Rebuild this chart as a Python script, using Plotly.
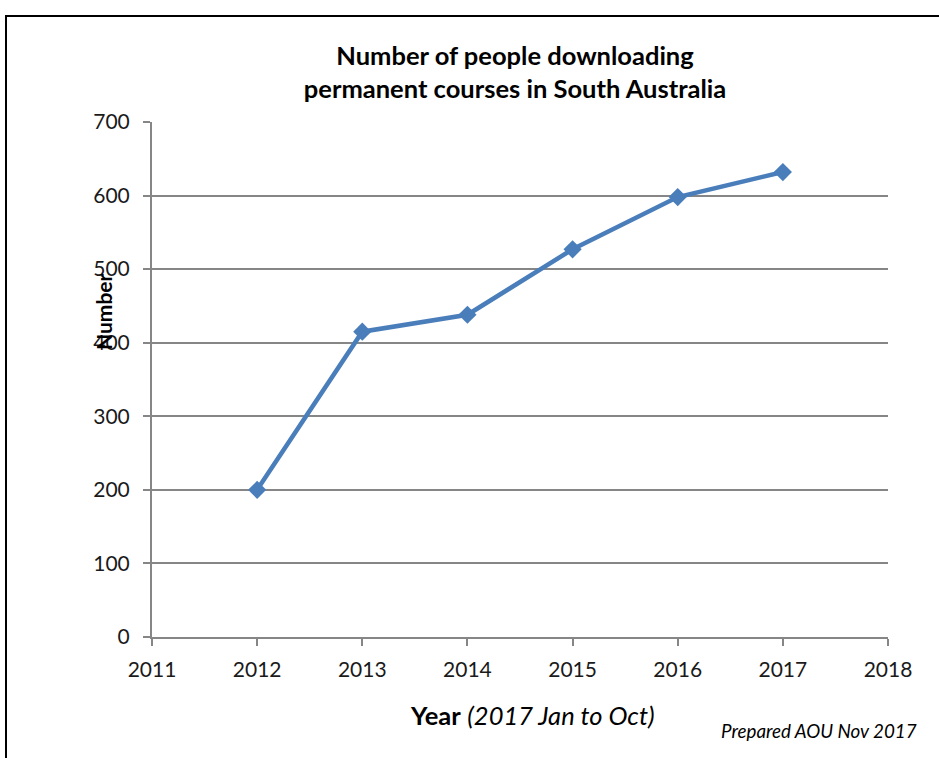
import plotly.graph_objects as go

years = [2012, 2013, 2014, 2015, 2016, 2017]
downloads = [200, 415, 438, 527, 598, 632]
x_ticks = [2011, 2012, 2013, 2014, 2015, 2016, 2017, 2018]
y_ticks = [0, 100, 200, 300, 400, 500, 600, 700]

FONT = "Lato"

fig = go.Figure()
fig.add_trace(go.Scatter(
    x=years, y=downloads, mode="lines+markers",
    line=dict(color="#4a7ebb", width=4.5),
    marker=dict(symbol="diamond", size=14, color="#4a7ebb"),
    showlegend=False, hoverinfo="x+y",
))

fig.update_layout(
    width=939, height=758,
    margin=dict(l=152, r=51, t=122, b=121),
    paper_bgcolor="white", plot_bgcolor="white",
    font=dict(family=FONT, color="#1a1a1a", size=21),
    title=dict(
        text="<b>Number of people downloading<br>permanent courses in South Australia</b>",
        x=515 / 939, xanchor="center", y=1 - 65 / 758, yanchor="middle",
        font=dict(size=25.5, family=FONT, color="#000000"),
    ),
    xaxis=dict(
        range=[2011, 2018], tickvals=x_ticks, ticktext=[str(v) for v in x_ticks],
        showgrid=False, showline=True, linecolor="#868686", linewidth=2,
        ticks="outside", ticklen=7, tickcolor="#868686", tickwidth=2, zeroline=False,
        tickfont=dict(size=21, family=FONT), ticklabelstandoff=6,
    ),
    yaxis=dict(
        range=[0, 700], tickvals=y_ticks, showgrid=True, gridcolor="#868686", gridwidth=1.5,
        showline=True, linecolor="#868686", linewidth=2,
        ticks="outside", ticklen=7, tickcolor="#868686", tickwidth=2, zeroline=False,
        tickfont=dict(size=21, family=FONT), ticklabelstandoff=9,
    ),
    shapes=[dict(type="rect", xref="paper", yref="paper",
                 x0=(6 - 152) / 736, x1=1.3, y0=-0.5, y1=1 + (122 - 16) / 515,
                 line=dict(color="#000000", width=2), layer="below")],
    annotations=[
        dict(text="<b>Year</b> <i>(2017 Jan to Oct)</i>", xref="paper", yref="paper",
             x=(532 - 152) / 736, y=-(715 - 637) / 515, xanchor="center", yanchor="middle",
             showarrow=False, font=dict(size=25.5, family=FONT, color="#000000")),
        dict(text="<i>Prepared AOU Nov 2017</i>", xref="paper", yref="paper",
             x=(919 - 152) / 736, y=-(730 - 637) / 515, xanchor="right", yanchor="middle",
             showarrow=False, font=dict(size=18.8, family=FONT, color="#000000")),
        dict(text="<b>Number</b>", xref="paper", yref="paper",
             x=(103 - 152) / 736, y=(637 - 312) / 515, xanchor="center", yanchor="middle",
             textangle=-90, showarrow=False, font=dict(size=21, family=FONT, color="#000000")),
    ],
)

fig.write_html(
    "out.html",
    config={"displayModeBar": False},
    post_script="document.body.style.margin='0';document.body.style.overflow='hidden';",
)
